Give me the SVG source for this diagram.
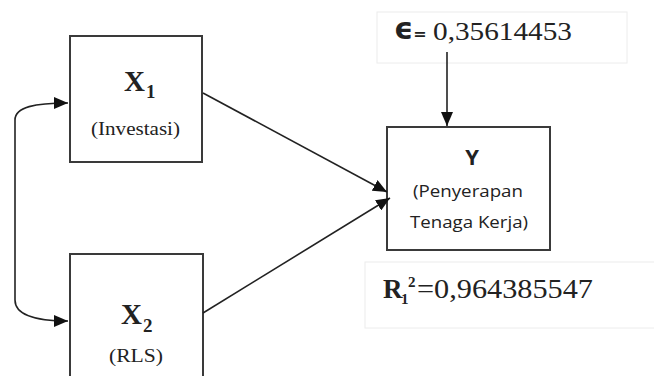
<svg xmlns="http://www.w3.org/2000/svg" width="654" height="376" viewBox="0 0 654 376">
<style>
.box{fill:#fff;stroke:#3a3a3a;stroke-width:2}
.faint{fill:none;stroke:#ececec;stroke-width:1}
.ln{fill:none;stroke:#222;stroke-width:1.6}
.tm{font-family:'Liberation Serif','Times New Roman',Times,serif;fill:#222}
.sn{font-family:'Open Sans',sans-serif;fill:#222}
</style>
<defs>
<marker id="ah" viewBox="0 0 14 12" refX="14" refY="6" markerWidth="14" markerHeight="12" markerUnits="userSpaceOnUse" orient="auto-start-reverse">
<path d="M0,0 L14,6 L0,12 Z" fill="#111"/>
</marker>
</defs>
<rect width="654" height="376" fill="#fff"/>
<g id="eps">
<rect class="faint" x="377" y="12" width="250" height="51"/>
<text x="394" y="39" font-family="DejaVu Sans,sans-serif" font-weight="bold" font-size="30" fill="#222">ϵ<tspan font-size="16">=</tspan></text>
<text x="433" y="40" class="tm" font-size="26" textLength="139" lengthAdjust="spacingAndGlyphs">0,35614453</text>
</g>
<g id="r2">
<rect class="faint" x="365" y="262" width="300" height="66"/>
<text x="383" y="298" class="tm" font-size="27" font-weight="bold">R</text>
<text x="401" y="304" class="tm" font-size="15" font-weight="bold">1</text>
<text x="408" y="287" class="tm" font-size="15" font-weight="bold">2</text>
<text x="417" y="298" class="tm" font-size="27" textLength="176" lengthAdjust="spacingAndGlyphs">=0,964385547</text>
</g>
<g id="x1">
<rect class="box" x="70" y="36" width="132" height="126"/>
<text x="124" y="91" class="tm" font-size="29" font-weight="bold">X</text>
<text x="146" y="98" class="tm" font-size="19" font-weight="bold">1</text>
<text x="91" y="135" class="tm" font-size="19" textLength="89" lengthAdjust="spacingAndGlyphs">(Investasi)</text>
</g>
<g id="x2">
<rect class="box" x="70" y="254" width="133" height="140"/>
<text x="121" y="324" class="tm" font-size="29" font-weight="bold">X</text>
<text x="143" y="332" class="tm" font-size="19" font-weight="bold">2</text>
<text x="109" y="362" class="tm" font-size="19" textLength="54" lengthAdjust="spacingAndGlyphs">(RLS)</text>
</g>
<g id="y">
<rect class="box" x="387" y="127" width="163" height="123"/>
<text x="472" y="165" class="sn" font-size="22" font-weight="bold" text-anchor="middle">Y</text>
<text x="413" y="197" class="sn" font-size="17" textLength="110" lengthAdjust="spacingAndGlyphs">(Penyerapan</text>
<text x="410" y="228" class="sn" font-size="17" textLength="118" lengthAdjust="spacingAndGlyphs">Tenaga Kerja)</text>
</g>
<g id="connectors">
<path class="ln" d="M447,52 L447,126" marker-end="url(#ah)"/>
<path class="ln" d="M203,93 L387,192" marker-end="url(#ah)"/>
<path class="ln" d="M203,313 L390,198" marker-end="url(#ah)"/>
<path class="ln" d="M68,103 C35,103 15,107 15,120 L15,300 C15,315 35,321 68,321" marker-start="url(#ah)" marker-end="url(#ah)"/>
</g>
</svg>
